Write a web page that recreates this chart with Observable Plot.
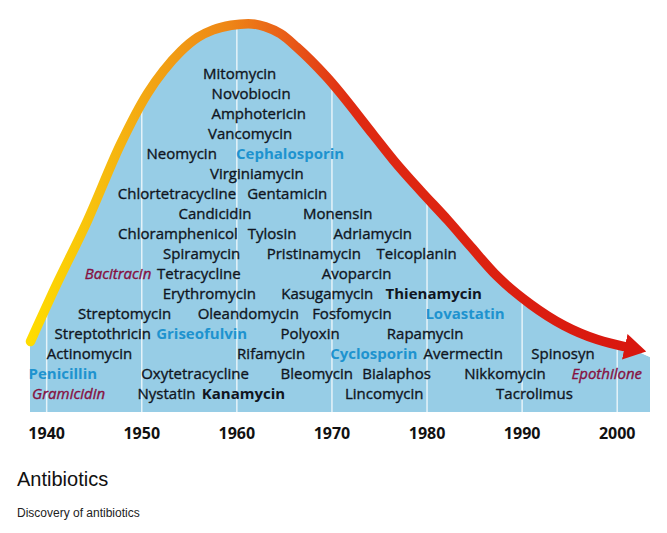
<!DOCTYPE html>
<html><head><meta charset="utf-8">
<script src="https://cdn.jsdelivr.net/npm/d3@7"></script>
<script src="https://cdn.jsdelivr.net/npm/@observablehq/plot@0.6"></script>
<style>
body{margin:0;background:#fff;}
#chart svg{display:block;}
.title{font-family:"Liberation Sans",Arial,sans-serif;font-size:20px;line-height:24px;margin:12px 0 0 17px;color:#111;}
.caption{font-family:"Liberation Sans",Arial,sans-serif;font-size:12px;line-height:14px;margin:15px 0 0 17px;color:#222;}
</style></head><body>
<div id="chart"></div>
<div class="title">Antibiotics</div>
<div class="caption">Discovery of antibiotics</div>
<script>
// Discovery curve (year, relative rate of discovery)
const curveYears  = [1938.3, 1939.0, 1940.7, 1944.3, 1947.8, 1950.6, 1952.3, 1954.1, 1955.9, 1957.5, 1959.4, 1961.2,
  1963.0, 1964.6, 1966.3, 1969.4, 1974.4, 1976.5, 1979.3, 1982.2, 1984.6, 1987.4, 1990.9, 1994.4, 1997.9, 2001.1, 2003.5];
const curveValues = [18.1, 21.9, 30.9, 49.0, 68.6, 81.4, 87.2, 92.1, 95.7, 97.6, 98.8, 99.2,
  98.4, 96.6, 93.2, 85.7, 70.7, 64.3, 56.6, 49.0, 42.3, 34.7, 27.6, 22.2, 18.6, 16.6, 14.0];

// Antibiotic labels: name, approximate year, stacking row, kind
const names = ["Mitomycin","Novobiocin","Amphotericin","Vancomycin","Neomycin","Cephalosporin","Virginiamycin",
  "Chlortetracycline","Gentamicin","Candicidin","Monensin","Chloramphenicol","Tylosin","Adriamycin",
  "Spiramycin","Pristinamycin","Teicoplanin","Bacitracin","Tetracycline","Avoparcin",
  "Erythromycin","Kasugamycin","Thienamycin","Streptomycin","Oleandomycin","Fosfomycin","Lovastatin",
  "Streptothricin","Griseofulvin","Polyoxin","Rapamycin","Actinomycin","Rifamycin","Cyclosporin","Avermectin","Spinosyn",
  "Penicillin","Oxytetracycline","Bleomycin","Bialaphos","Nikkomycin","Epothilone",
  "Gramicidin","Nystatin","Kanamycin","Lincomycin","Tacrolimus"];
const labelYears = [1960.3,1961.5,1962.3,1961.4,1954.2,1965.6,1962.1,
  1953.7,1965.3,1957.7,1970.6,1953.8,1963.7,1974.3,
  1956.3,1968.1,1978.9,1947.5,1956.0,1972.6,
  1957.1,1969.5,1980.7,1948.2,1961.2,1972.1,1984.0,
  1945.9,1956.3,1967.7,1979.8,1944.5,1963.6,1974.4,1983.8,1994.3,
  1941.7,1955.6,1968.4,1976.8,1988.2,1998.9,
  1942.3,1952.6,1960.7,1975.5,1991.3];
const labelRows = [0,1,2,3,4,4,5,
  6,6,7,7,8,8,8,
  9,9,9,10,10,10,
  11,11,11,12,12,12,12,
  13,13,13,13,14,14,14,14,14,
  15,15,15,15,15,15,
  16,16,16,16,16];
const labelKinds = ["plain","plain","plain","plain","plain","blue","plain",
  "plain","plain","plain","plain","plain","plain","plain",
  "plain","plain","plain","italic","plain","plain",
  "plain","plain","bold","plain","plain","plain","blue",
  "plain","blue","plain","plain","plain","plain","blue","plain","plain",
  "blue","plain","plain","plain","plain","italic",
  "italic","plain","bold","plain","plain"];
const tickYears = [1940,1950,1960,1970,1980,1990,2000];

const curve = curveYears.map((x, i) => ({x, v: curveValues[i]}));
const lineData = curve.slice(0, -1);
const topRow = 86.2, rowStep = 5.09;
const labels = names.map((name, i) => ({name, year: labelYears[i], row: labelRows[i], kind: labelKinds[i]}));
const rowY = d => topRow - d.row * rowStep;

const textBase = {x: "year", y: rowY, text: "name", fontSize: 15, fontFamily: "'Open Sans', sans-serif", textAnchor: "middle"};

const defs = () => {
  const d = d3.create("svg:defs");
  const g = d.append("linearGradient").attr("id", "strokeGrad").attr("gradientUnits", "userSpaceOnUse")
    .attr("x1", 30).attr("x2", 650).attr("y1", 0).attr("y2", 0);
  [[0, "#ffdc00"], [0.09, "#f8c40c"], [0.2, "#f2a314"], [0.32, "#ee8616"], [0.41, "#e95e18"], [0.52, "#df2a12"], [1, "#d8160f"]]
    .forEach(([o, c]) => g.append("stop").attr("offset", o).attr("stop-color", c));
  const m = d.append("marker").attr("id", "arrowHead").attr("markerUnits", "userSpaceOnUse")
    .attr("viewBox", "0 0 22 26").attr("markerWidth", 22).attr("markerHeight", 26)
    .attr("refX", 3).attr("refY", 13).attr("orient", "auto");
  m.append("path").attr("d", "M0,0L22,13L0,26Z").attr("fill", "#d8170f");
  return d.node();
};

const chart = Plot.plot({
  width: 667,
  height: 455,
  marginLeft: 30,
  marginRight: 17,
  marginTop: 20,
  marginBottom: 43,
  style: {fontFamily: "'Open Sans', sans-serif", background: "#fff", overflow: "visible"},
  x: {domain: [1938.3, 2003.5]},
  y: {domain: [0, 100], axis: null},
  marks: [
    defs,
    Plot.areaY(curve, {x: "x", y: "v", fill: "#97cde6", curve: "monotone-x"}),
    Plot.ruleX(tickYears, {stroke: "white", strokeWidth: 1.5, strokeOpacity: 0.75}),
    Plot.areaY(curve, {x: "x", y1: "v", y2: 100, fill: "white", curve: "monotone-x"}),
    Plot.text(labels.filter(d => d.kind === "plain"), {...textBase, fill: "#101521", stroke: "#101521", strokeWidth: 0.35}),
    Plot.text(labels.filter(d => d.kind === "bold"), {...textBase, fill: "#101521", fontWeight: "bold"}),
    Plot.text(labels.filter(d => d.kind === "blue"), {...textBase, fill: "#1e93cf", fontWeight: "bold"}),
    Plot.text(labels.filter(d => d.kind === "italic"), {...textBase, fill: "#86103f", stroke: "#86103f", strokeWidth: 0.35, fontStyle: "italic"}),
    Plot.line(lineData, {x: "x", y: "v", stroke: "url(#strokeGrad)", strokeWidth: 9.5, curve: "monotone-x"}),
    Plot.axisX(tickYears, {tickSize: 0, tickPadding: 15, fontSize: 16, fontWeight: "bold", fill: "#111", tickFormat: d => String(d)})
  ]
});
const lines = chart.querySelectorAll('g[aria-label="line"] path');
lines.forEach(p => p.setAttribute("marker-end", "url(#arrowHead)"));
document.getElementById("chart").appendChild(chart);
</script>
</body></html>
